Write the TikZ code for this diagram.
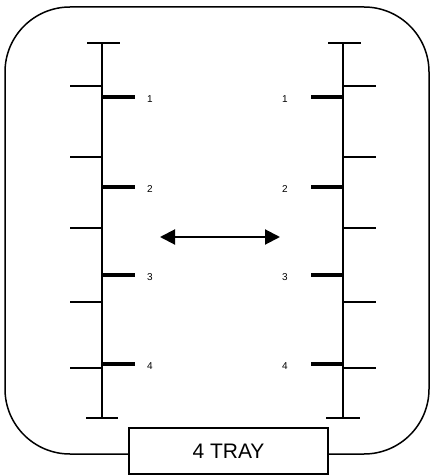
\documentclass[tikz,border=0pt]{standalone}
\usepackage{fontspec}
\setmainfont{Liberation Sans}
\usetikzlibrary{arrows.meta}
\begin{document}
\begin{tikzpicture}[x=1pt,y=-1pt,
  thin tick/.style={line width=1.3pt},
  thick tick/.style={line width=3.2pt},
  spine/.style={line width=1.6pt},
  lbl/.style={font=\fontsize{10}{11}\selectfont, inner sep=0pt},
  traybox/.style={draw, line width=1.5pt, fill=white, minimum width=199pt, minimum height=46pt, inner sep=0pt, font=\fontsize{21}{24}\selectfont}]
\useasboundingbox (0,0) rectangle (433,476);
\draw[line width=1.5pt, rounded corners=65pt] (5,7) rectangle (429,454);
% left ruler
\draw[spine] (102,43) -- (102,418);
\draw[thin tick] (87,43) -- (120,43);
\draw[thin tick] (86,418) -- (118,418);
\foreach \y in {86,157,228,302,368} \draw[thin tick] (70,\y) -- (102,\y);
\foreach \y/\n in {97/1,187/2,275/3,364/4} {
  \draw[thick tick] (102,\y) -- (135,\y);
  \node[lbl] (L\n) at (150,\y+2) {\n};
}
% right ruler
\draw[spine] (343,43) -- (343,418);
\draw[thin tick] (328,43) -- (361,43);
\draw[thin tick] (326,418) -- (360,418);
\foreach \y in {86,157,228,302,368} \draw[thin tick] (343,\y) -- (376,\y);
\foreach \y/\n in {97/1,187/2,275/3,364/4} {
  \draw[thick tick] (311,\y) -- (343,\y);
  \node[lbl] (R\n) at (285,\y+2) {\n};
}
% arrow
\coordinate (a1) at (160,237);
\coordinate (a2) at (280,237);
\draw[line width=2pt, {Triangle[length=15pt,width=15pt]}-{Triangle[length=15pt,width=15pt]}] (a1) -- (a2);
% tray box
\node[traybox] (tray) at (228.5,451) {4 TRAY};
\end{tikzpicture}
\end{document}
